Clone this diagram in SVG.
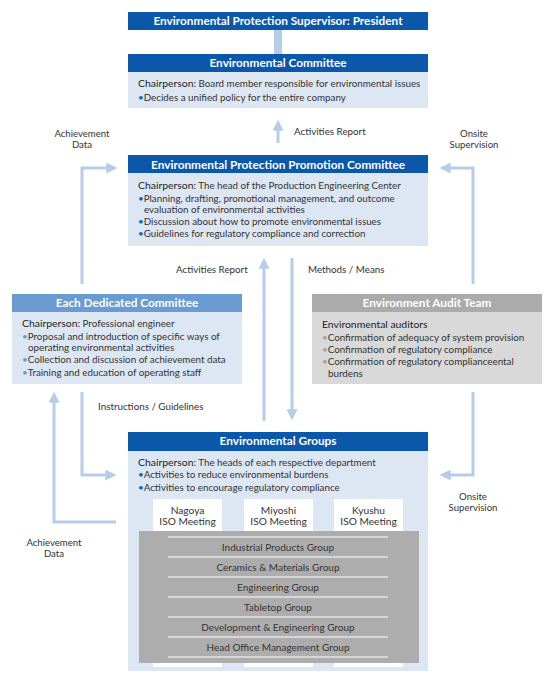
<svg xmlns="http://www.w3.org/2000/svg" width="554" height="686" viewBox="0 0 554 686">
<defs>
<style>
.hd{fill:#0B58AA}
.hdl{fill:#6A9BD1}
.hdg{fill:#ABABAB}
.bd{fill:#DCE7F3}
.bdg{fill:#D9D9D9}
.ht{font-family:Lato,"Liberation Sans",sans-serif;font-weight:bold;font-size:11.8px;fill:#fff;text-anchor:middle}
.tx{font-family:Lato,"Liberation Sans",sans-serif;font-size:9.8px;fill:#333}
.cp{font-family:Lato,"Liberation Sans",sans-serif;font-size:10.4px;fill:#222}
.b1{fill:#1B5FB0}
.b2{fill:#6A9BD1}
.b3{fill:#A0A0A0}
.lb{font-family:Lato,"Liberation Sans",sans-serif;font-size:9.8px;fill:#333}
.lbc{font-family:Lato,"Liberation Sans",sans-serif;font-size:9.6px;fill:#333;text-anchor:middle}
.iso{font-family:Lato,"Liberation Sans",sans-serif;font-size:10.2px;fill:#333;text-anchor:middle}
.gt{font-family:Lato,"Liberation Sans",sans-serif;font-size:10px;fill:#333;text-anchor:middle}
.cn{fill:none;stroke:#B5CDE8;stroke-width:3;marker-end:url(#ah)}
.gl{stroke:#fff;stroke-width:1.2}
</style>
<marker id="ah" viewBox="0 0 10 10" refX="7" refY="5" markerWidth="11" markerHeight="11" markerUnits="userSpaceOnUse" orient="auto"><path d="M0,0 L10,5 L0,10 z" fill="#B5CDE8"/></marker>
</defs>
<rect width="554" height="686" fill="#fff"/>

<g id="connectors">
<rect x="274" y="30" width="8" height="24" fill="#B5CDE8"/>
<path class="cn" d="M278,143 L278,123"/>
<path class="cn" d="M264,421 L264,261"/>
<path class="cn" d="M292,258 L292,417"/>
<path class="cn" d="M82,284 L82,168 L114,168"/>
<path class="cn" d="M473,284 L473,168 L443,168"/>
<path class="cn" d="M82,392 L82,475 L113,475"/>
<path class="cn" d="M473,392 L473,475 L443,475"/>
<path class="cn" d="M116,522 L54,522 L54,395"/>
<text class="lbc" x="82" y="137">Achievement</text>
<text class="lbc" x="82" y="148">Data</text>
<text class="lbc" x="474" y="137">Onsite</text>
<text class="lbc" x="474" y="148">Supervision</text>
<text class="lb" x="294" y="135">Activities Report</text>
<text class="lb" x="176" y="273">Activities Report</text>
<text class="lb" x="308" y="273">Methods / Means</text>
<text class="lb" x="98" y="410">Instructions / Guidelines</text>
<text class="lbc" x="473" y="499.5">Onsite</text>
<text class="lbc" x="473" y="510.5">Supervision</text>
<text class="lbc" x="54" y="546">Achievement</text>
<text class="lbc" x="54" y="557">Data</text>
</g>

<g id="supervisor">
<rect class="hd" x="128" y="12" width="300" height="18"/>
<text class="ht" x="278" y="25">Environmental Protection Supervisor: President</text>
</g>

<g id="env-committee">
<rect class="hd" x="128" y="54" width="300" height="18"/>
<rect class="bd" x="128" y="72" width="300" height="36"/>
<text class="ht" x="278" y="67">Environmental Committee</text>
<text class="tx" x="138" y="87"><tspan class="cp">Chairperson:</tspan> Board member responsible for environmental issues</text>
<text class="tx" x="138" y="101"><tspan class="b1">•</tspan>Decides a unified policy for the entire company</text>
</g>

<g id="promotion-committee">
<rect class="hd" x="128" y="155" width="300" height="18"/>
<rect class="bd" x="128" y="173" width="300" height="73"/>
<text class="ht" x="278" y="169">Environmental Protection Promotion Committee</text>
<text class="tx" x="138" y="189"><tspan class="cp">Chairperson:</tspan> The head of the Production Engineering Center</text>
<text class="tx" x="138" y="201.5"><tspan class="b1">•</tspan>Planning, drafting, promotional management, and outcome</text>
<text class="tx" x="144" y="213">evaluation of environmental activities</text>
<text class="tx" x="138" y="225"><tspan class="b1">•</tspan>Discussion about how to promote environmental issues</text>
<text class="tx" x="138" y="237"><tspan class="b1">•</tspan>Guidelines for regulatory compliance and correction</text>
</g>

<g id="dedicated-committee">
<rect class="hdl" x="12" y="294" width="230" height="18"/>
<rect class="bd" x="12" y="312" width="230" height="72"/>
<text class="ht" x="127" y="307">Each Dedicated Committee</text>
<text class="tx" x="22" y="327"><tspan class="cp">Chairperson:</tspan> Professional engineer</text>
<text class="tx" x="22" y="339.5"><tspan class="b2">•</tspan>Proposal and introduction of specific ways of</text>
<text class="tx" x="28" y="351">operating environmental activities</text>
<text class="tx" x="22" y="363"><tspan class="b2">•</tspan>Collection and discussion of achievement data</text>
<text class="tx" x="22" y="375.5"><tspan class="b2">•</tspan>Training and education of operating staff</text>
</g>

<g id="audit-team">
<rect class="hdg" x="312" y="294" width="230" height="18"/>
<rect class="bdg" x="312" y="312" width="230" height="72"/>
<text class="ht" x="427" y="307">Environment Audit Team</text>
<text class="cp" x="322" y="328">Environmental auditors</text>
<text class="tx" x="322" y="341"><tspan class="b3">•</tspan>Confirmation of adequacy of system provision</text>
<text class="tx" x="322" y="353"><tspan class="b3">•</tspan>Confirmation of regulatory compliance</text>
<text class="tx" x="322" y="365"><tspan class="b3">•</tspan>Confirmation of regulatory complianceental</text>
<text class="tx" x="328" y="376.5">burdens</text>
</g>

<g id="env-groups">
<rect class="hd" x="128" y="432" width="300" height="19"/>
<rect class="bd" x="128" y="451" width="300" height="220"/>
<text class="ht" x="278" y="445">Environmental Groups</text>
<text class="tx" x="138" y="465.5"><tspan class="cp">Chairperson:</tspan> The heads of each respective department</text>
<text class="tx" x="138" y="478"><tspan class="b1">•</tspan>Activities to reduce environmental burdens</text>
<text class="tx" x="138" y="491"><tspan class="b1">•</tspan>Activities to encourage regulatory compliance</text>
</g>

<g id="iso-meetings">
<rect x="153" y="499" width="69" height="168" fill="#fff"/>
<rect x="244" y="499" width="69" height="168" fill="#fff"/>
<rect x="334" y="499" width="69" height="168" fill="#fff"/>
<text class="iso" x="187.5" y="513.5">Nagoya</text>
<text class="iso" x="187.5" y="524.5">ISO Meeting</text>
<text class="iso" x="278.5" y="513.5">Miyoshi</text>
<text class="iso" x="278.5" y="524.5">ISO Meeting</text>
<text class="iso" x="368.5" y="513.5">Kyushu</text>
<text class="iso" x="368.5" y="524.5">ISO Meeting</text>
</g>

<g id="groups-list">
<rect x="139" y="531" width="280" height="132" fill="#ADADAD"/>
<line class="gl" x1="168" y1="537" x2="388" y2="537"/>
<line class="gl" x1="168" y1="557" x2="388" y2="557"/>
<line class="gl" x1="168" y1="577" x2="388" y2="577"/>
<line class="gl" x1="168" y1="597" x2="388" y2="597"/>
<line class="gl" x1="168" y1="617" x2="388" y2="617"/>
<line class="gl" x1="168" y1="637" x2="388" y2="637"/>
<line class="gl" x1="168" y1="657" x2="388" y2="657"/>
<text class="gt" x="278" y="551">Industrial Products Group</text>
<text class="gt" x="278" y="571">Ceramics &amp; Materials Group</text>
<text class="gt" x="278" y="591">Engineering Group</text>
<text class="gt" x="278" y="611">Tabletop Group</text>
<text class="gt" x="278" y="631">Development &amp; Engineering Group</text>
<text class="gt" x="278" y="651">Head Office Management Group</text>
</g>
</svg>
